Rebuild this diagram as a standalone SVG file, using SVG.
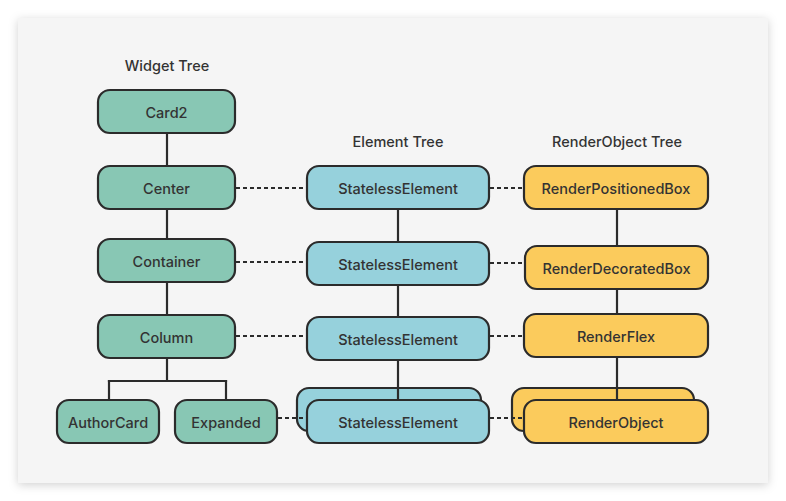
<svg xmlns="http://www.w3.org/2000/svg" width="786" height="501" viewBox="0 0 786 501">
<defs>
<filter id="sh" x="-10%" y="-10%" width="120%" height="120%">
<feDropShadow dx="0" dy="2" stdDeviation="5" flood-color="#000" flood-opacity="0.18"/>
</filter>
</defs>
<style>
.n rect{stroke:#2b2b2b;stroke-width:2.2}
.w rect{fill:#88c7b4}
.e rect{fill:#96d1dc}
.r rect{fill:#fbcb5c}
text{font-family:Inter,"Noto Sans","Liberation Sans",sans-serif;font-size:14.5px;font-weight:500;fill:#333;text-anchor:middle}
.c line{stroke:#2b2b2b;stroke-width:2.2}
.c .d{stroke-dasharray:4 3}
</style>
<rect width="786" height="501" fill="#ffffff"/>
<rect x="18" y="18" width="750" height="465" fill="#f5f5f5" filter="url(#sh)"/>
<g id="titles">
<text x="167" y="71">Widget Tree</text>
<text x="398" y="147">Element Tree</text>
<text x="617" y="147">RenderObject Tree</text>
</g>
<g id="w-card2" class="n w"><rect x="98" y="90" width="137" height="43" rx="12"/><text x="166.5" y="118">Card2</text></g>
<g id="w-center" class="n w"><rect x="98" y="166" width="137" height="43" rx="12"/><text x="166.5" y="194">Center</text></g>
<g id="w-container" class="n w"><rect x="98" y="239" width="137" height="43" rx="12"/><text x="166.5" y="267">Container</text></g>
<g id="w-column" class="n w"><rect x="98" y="315" width="137" height="43" rx="12"/><text x="166.5" y="343">Column</text></g>
<g id="w-authorcard" class="n w"><rect x="57" y="400" width="102" height="43" rx="12"/><text x="108" y="428">AuthorCard</text></g>
<g id="w-expanded" class="n w"><rect x="175" y="400" width="102" height="43" rx="12"/><text x="226" y="428">Expanded</text></g>
<g id="e-1" class="n e"><rect x="307" y="166" width="182" height="43" rx="12"/><text x="398" y="194">StatelessElement</text></g>
<g id="e-2" class="n e"><rect x="307" y="242" width="182" height="43" rx="12"/><text x="398" y="270">StatelessElement</text></g>
<g id="e-3" class="n e"><rect x="307" y="317" width="182" height="43" rx="12"/><text x="398" y="345">StatelessElement</text></g>
<g id="e-4" class="n e"><rect x="297" y="388" width="184" height="43" rx="12"/><rect x="307" y="400" width="182" height="43" rx="12"/><text x="398" y="428">StatelessElement</text></g>
<g id="r-1" class="n r"><rect x="524" y="166" width="184" height="43" rx="12"/><text x="616" y="194">RenderPositionedBox</text></g>
<g id="r-2" class="n r"><rect x="525" y="246" width="183" height="43" rx="12"/><text x="616.5" y="274">RenderDecoratedBox</text></g>
<g id="r-3" class="n r"><rect x="524" y="314" width="184" height="43" rx="12"/><text x="616" y="342">RenderFlex</text></g>
<g id="r-4" class="n r"><rect x="512" y="388" width="182" height="43" rx="12"/><rect x="524" y="400" width="184" height="43" rx="12"/><text x="616" y="428">RenderObject</text></g>
<g id="connectors" class="c">
<line x1="167" y1="133" x2="167" y2="166"/>
<line x1="167" y1="209" x2="167" y2="239"/>
<line x1="167" y1="282" x2="167" y2="315"/>
<line x1="167" y1="358" x2="167" y2="381"/>
<line x1="107.9" y1="381" x2="227.1" y2="381"/>
<line x1="109" y1="380" x2="109" y2="400"/>
<line x1="226" y1="380" x2="226" y2="400"/>
<line x1="398" y1="209" x2="398" y2="242"/>
<line x1="398" y1="285" x2="398" y2="317"/>
<line x1="398" y1="360" x2="398" y2="400"/>
<line x1="617" y1="209" x2="617" y2="246"/>
<line x1="617" y1="289" x2="617" y2="314"/>
<line x1="617" y1="357" x2="617" y2="400"/>
<line class="d" x1="236" y1="188" x2="307" y2="188"/>
<line class="d" x1="490" y1="188" x2="524" y2="188"/>
<line class="d" x1="236" y1="262" x2="307" y2="262"/>
<line class="d" x1="490" y1="263" x2="525" y2="263"/>
<line class="d" x1="236" y1="336" x2="307" y2="336"/>
<line class="d" x1="490" y1="336" x2="524" y2="336"/>
<line class="d" x1="278" y1="418" x2="307" y2="418"/>
<line class="d" x1="490" y1="418" x2="524" y2="418"/>
</g>
</svg>
